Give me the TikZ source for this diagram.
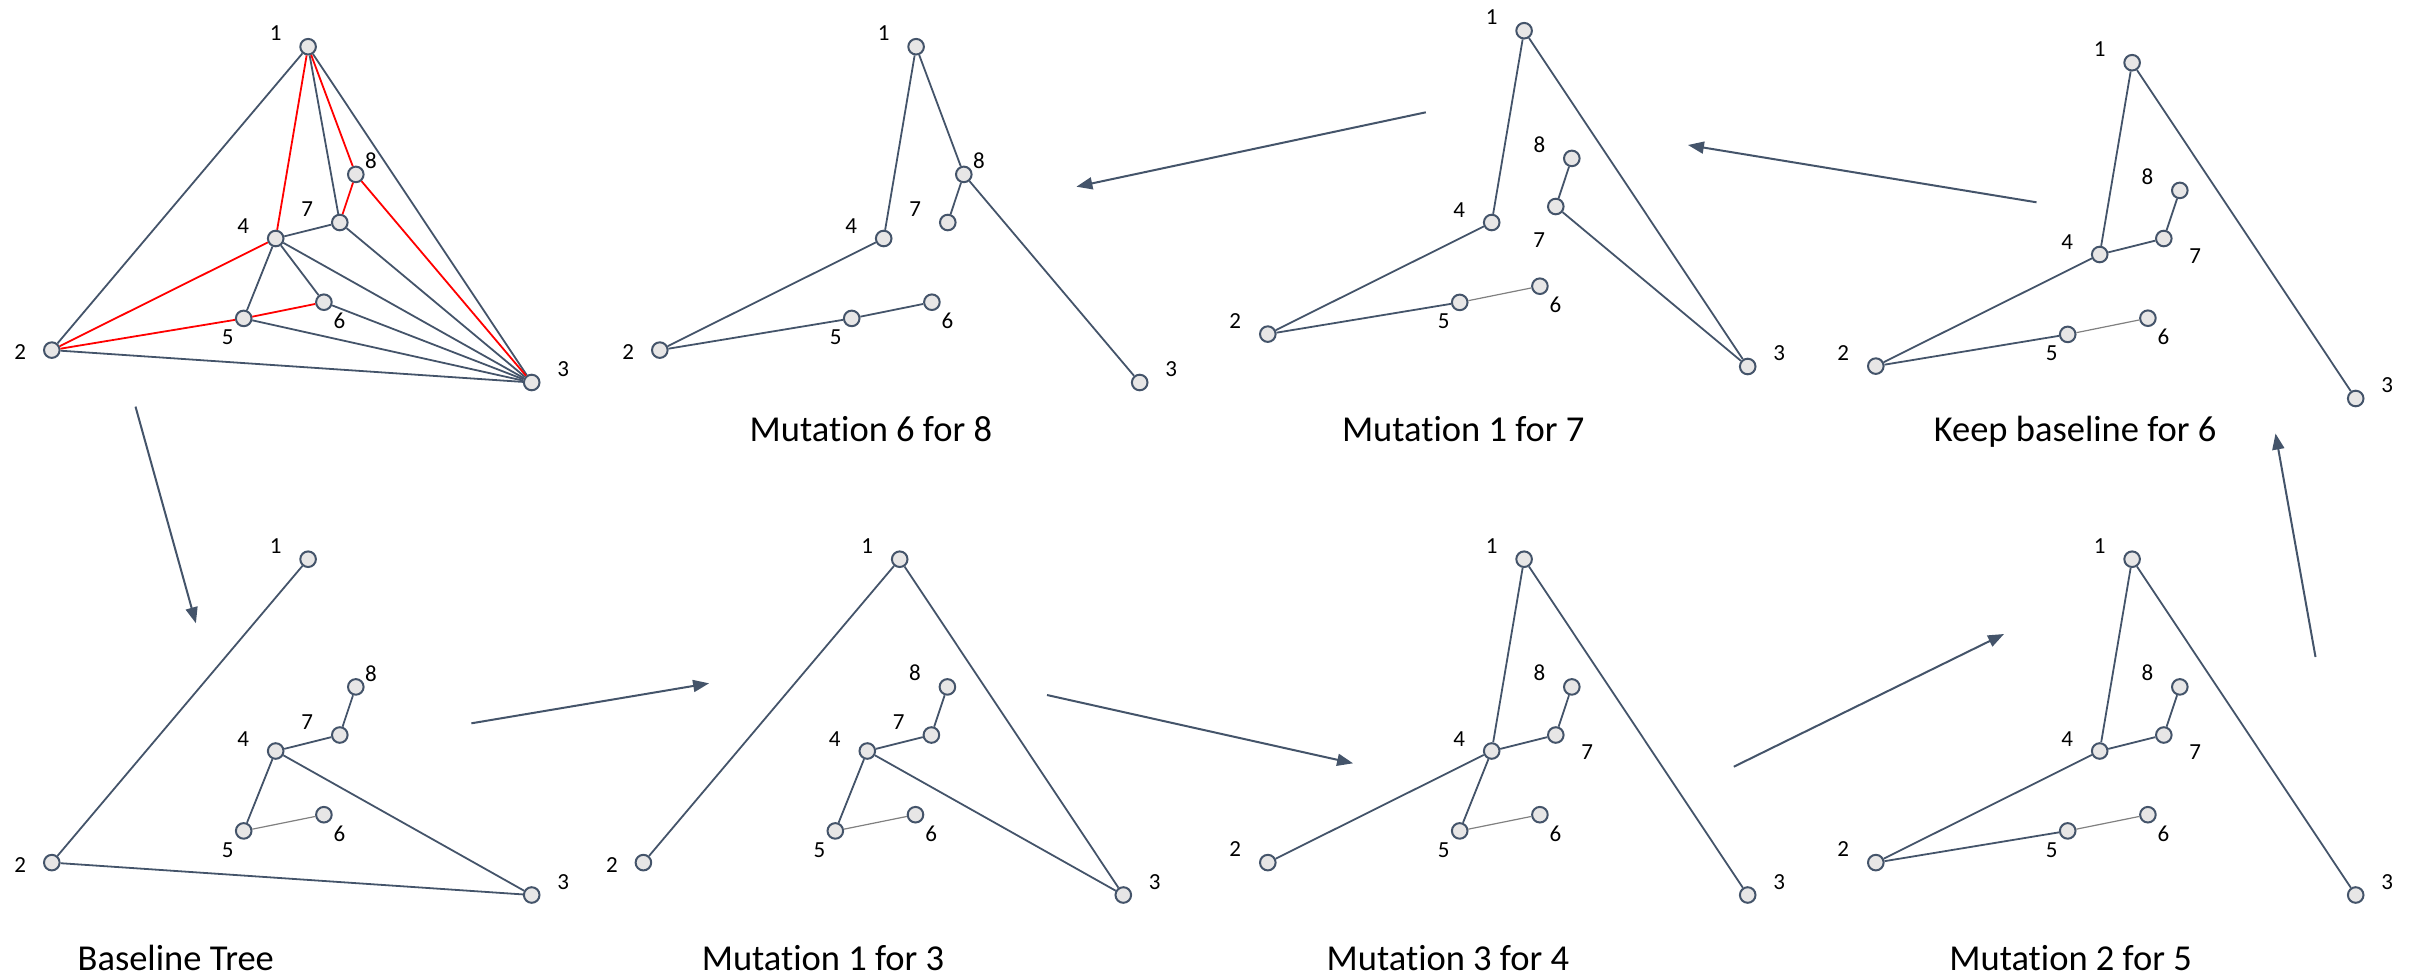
\documentclass[tikz,border=0pt]{standalone}
\usepackage{fontspec}
\setmainfont{Carlito}[Ligatures=NoCommon]
\usetikzlibrary{arrows.meta,calc}

\definecolor{slate}{HTML}{44546A}
\definecolor{vfill}{HTML}{E7E6E6}
\definecolor{leafline}{HTML}{808080}

\tikzset{
  vtx/.style={circle, draw=slate, fill=vfill, line width=1pt, minimum size=7.8pt, inner sep=0pt},
  lbl/.style={inner sep=0pt, text=black, font=\fontsize{11.5}{13}\selectfont},
  ttl/.style={inner sep=0pt, anchor=base west, text=black, font=\fontsize{18.25}{22}\selectfont},
  tedge/.style={draw=slate, line width=0.9pt},
  redge/.style={draw=red, line width=0.9pt},
  gedge/.style={draw=leafline, line width=0.6pt},
  flow/.style={draw=slate, line width=1pt, -{Triangle[length=8pt,width=6pt]}},
}

% eight vertices of one tree, shifted as a whole
\newcommand\placetree[3]{%
  \begin{scope}[shift={(#2,#3)}]
    \node[vtx] (#1-1) at (308.1,46.7) {};
    \node[vtx] (#1-2) at (51.8,350.1) {};
    \node[vtx] (#1-3) at (531.7,382.5) {};
    \node[vtx] (#1-4) at (275.7,238.5) {};
    \node[vtx] (#1-5) at (243.7,318.4) {};
    \node[vtx] (#1-6) at (323.9,302.2) {};
    \node[vtx] (#1-7) at (339.8,222.5) {};
    \node[vtx] (#1-8) at (355.8,174.4) {};
  \end{scope}}

% vertex number placed relative to its vertex
\newcommand\vlab[4]{\node[lbl] (#1-l#2) at ($(#1-#2.center)+(#3,#4)$) {#2};}
\newcommand\commonlabels[1]{%
  \vlab{#1}{1}{-32.5}{-13.4}
  \vlab{#1}{3}{31.4}{-13}
  \vlab{#1}{4}{-32.6}{-12.3}
  \vlab{#1}{5}{-15.9}{19}
  \vlab{#1}{6}{15.6}{18.7}}

% edges of one tree
\newcommand\links[3]{\foreach \a/\b in {#3} {\draw[#2] (#1-\a) -- (#1-\b);}}

\begin{document}
\begin{tikzpicture}[x=0.5pt, y=-0.5pt]
\useasboundingbox (0,0) rectangle (2415,976);

% ---------- top row ----------
\placetree{pa}{0}{0}
\links{pa}{tedge}{1/2,1/3,1/7,2/3,4/7,4/5,4/6,4/3,7/3,6/3,5/3}
\links{pa}{redge}{1/4,1/8,8/7,8/3,4/2,2/5,5/6}
\commonlabels{pa}
\vlab{pa}{2}{-31.5}{2.3}
\vlab{pa}{7}{-32.6}{-13.3}
\vlab{pa}{8}{15.2}{-13.3}

\placetree{pb}{608}{0}
\links{pb}{tedge}{1/4,1/8,8/7,8/3,4/2,2/5,5/6}
\commonlabels{pb}
\vlab{pb}{2}{-31.5}{2.3}
\vlab{pb}{7}{-32.6}{-13.3}
\vlab{pb}{8}{15.2}{-13.3}
\node[ttl] (pb-t) at (749.3,441.7) {Mutation 6 for 8};

\placetree{pc}{1216}{-16}
\links{pc}{tedge}{1/4,1/3,4/2,2/5,8/7,7/3}
\links{pc}{gedge}{5/6}
\commonlabels{pc}
\vlab{pc}{2}{-32.5}{-13.3}
\vlab{pc}{7}{-16.5}{33.3}
\vlab{pc}{8}{-32.4}{-14}
\node[ttl] (pc-t) at (1341.6,441.7) {Mutation 1 for 7};

\placetree{pd}{1824}{16}
\links{pd}{tedge}{1/4,1/3,4/2,4/7,7/8,2/5}
\links{pd}{gedge}{5/6}
\commonlabels{pd}
\vlab{pd}{2}{-32.5}{-13.3}
\vlab{pd}{7}{31.4}{17.5}
\vlab{pd}{8}{-32.4}{-14}
\node[ttl] (pd-t) at (1933.4,441.7) {Keep baseline for 6};

% ---------- bottom row ----------
\placetree{qa}{0}{512.5}
\links{qa}{tedge}{1/2,2/3,4/3,4/7,7/8,4/5}
\links{qa}{gedge}{5/6}
\commonlabels{qa}
\vlab{qa}{2}{-31.5}{2.3}
\vlab{qa}{7}{-32.6}{-13.3}
\vlab{qa}{8}{15.2}{-13.3}
\node[ttl] (qa-t) at (77.3,970) {Baseline Tree};

\placetree{qb}{591.6}{512.5}
\links{qb}{tedge}{1/2,1/3,4/3,4/7,7/8,4/5}
\links{qb}{gedge}{5/6}
\commonlabels{qb}
\vlab{qb}{2}{-31.5}{2.3}
\vlab{qb}{7}{-32.6}{-13.3}
\vlab{qb}{8}{-32.4}{-14}
\node[ttl] (qb-t) at (701.4,970) {Mutation 1 for 3};

\placetree{qc}{1216}{512.5}
\links{qc}{tedge}{1/4,1/3,4/2,4/7,7/8,4/5}
\links{qc}{gedge}{5/6}
\commonlabels{qc}
\vlab{qc}{2}{-32.5}{-13.3}
\vlab{qc}{7}{31.4}{17.5}
\vlab{qc}{8}{-32.4}{-14}
\node[ttl] (qc-t) at (1326.3,970) {Mutation 3 for 4};

\placetree{qd}{1824}{512.5}
\links{qd}{tedge}{1/4,1/3,4/2,4/7,7/8,2/5}
\links{qd}{gedge}{5/6}
\commonlabels{qd}
\vlab{qd}{2}{-32.5}{-13.3}
\vlab{qd}{7}{31.4}{17.5}
\vlab{qd}{8}{-32.4}{-14}
\node[ttl] (qd-t) at (1949,970) {Mutation 2 for 5};

% ---------- flow between the trees ----------
\coordinate (f1s) at (135.5,406.6);  \coordinate (f1e) at (195.9,623.3);
\coordinate (f2s) at (471.4,723.3);  \coordinate (f2e) at (709.1,683.3);
\coordinate (f3s) at (1047,695);     \coordinate (f3e) at (1353.1,763.3);
\coordinate (f4s) at (1733.8,766.7); \coordinate (f4e) at (2004,634);
\coordinate (f5s) at (2315.5,657);   \coordinate (f5e) at (2275.5,433.5);
\coordinate (f6s) at (2036.5,202.3); \coordinate (f6e) at (1687.9,145);
\coordinate (f7s) at (1425.8,112.3); \coordinate (f7e) at (1076.4,186.7);
\foreach \k in {1,...,7} {\draw[flow] (f\k s) -- (f\k e);}
\end{tikzpicture}
\end{document}
